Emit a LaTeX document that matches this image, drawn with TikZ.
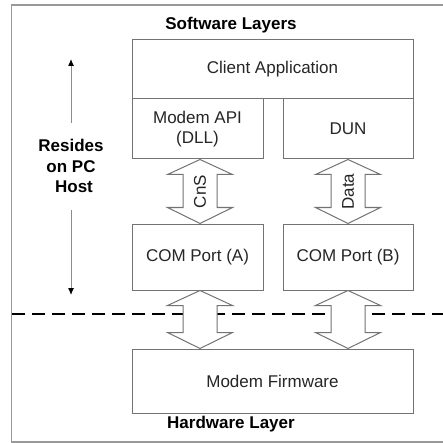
\documentclass[tikz,border=0pt]{standalone}
\usepackage{fontspec}
\setmainfont{Liberation Sans}
\usetikzlibrary{calc,arrows.meta}
\newcommand\fatarrow[3]{%
  \coordinate (fa1) at (#1);
  \coordinate (fa2) at (#2);
  \draw[fatarrowstyle] (fa1) -- ($(fa1)+(32.5,-15)$) -- ($(fa1)+(17,-15)$) -- ($(fa2)+(17,16)$)
    -- ($(fa2)+(32.5,16)$) -- (fa2) -- ($(fa2)+(-32.5,16)$) -- ($(fa2)+(-17,16)$)
    -- ($(fa1)+(-17,-15)$) -- ($(fa1)+(-32.5,-15)$) -- cycle;
  \node[txt, rotate=90] at ($(fa1)!0.5!(fa2)$) {#3};%
}
\begin{document}
\begin{tikzpicture}[x=1pt,y=1pt,
  txt/.style={font=\fontsize{17}{20}\selectfont, text=black!85},
  btxt/.style={font=\fontsize{17}{20.5}\selectfont\bfseries, text=black},
  box/.style={draw=black!55, line width=1pt, fill=white, inner sep=0pt, txt, align=center},
  fatarrowstyle/.style={draw=black!55, line width=1pt, fill=white, line join=miter},
  sidearrow/.style={draw=black!45, line width=1pt, -{Latex[length=7pt,width=6pt,black]}},
  frame/.style={draw=black!40, line width=1.5pt},
  divider/.style={draw=black, line width=2pt, dash pattern=on 13pt off 7pt}
]
\useasboundingbox (0,0) rectangle (443,-443);
\draw[frame] (11.5,-5) rectangle (460,-442);

\node[btxt] (sw) at (231,-25) {Software Layers};
\node[btxt] (hw) at (231,-424) {Hardware Layer};

\node[box, minimum width=281pt, minimum height=59pt] (client) at (272.5,-69.5) {Client Application};
\node[box, minimum width=131pt, minimum height=60pt] (api) at (197.5,-129) {Modem API\\(DLL)};
\node[box, minimum width=130pt, minimum height=60pt] (dun) at (348,-129) {DUN};
\node[box, minimum width=131pt, minimum height=66pt] (coma) at (197.5,-257) {COM Port (A)};
\node[box, minimum width=130pt, minimum height=66pt] (comb) at (348,-257) {COM Port (B)};
\node[box, minimum width=281pt, minimum height=64pt] (fw) at (272.5,-381) {Modem Firmware};

\coordinate (dl) at (12,-314);
\coordinate (dr) at (450,-314);
\draw[divider] (dl) -- (dr);

\fatarrow{$(api.south)+(2.5,0)$}{$(coma.north)+(2.5,0)$}{CnS}
\fatarrow{dun.south}{comb.north}{Data}
\fatarrow{$(coma.south)+(2.5,0)$}{$(coma.south |- fw.north)+(2.5,0)$}{}
\fatarrow{comb.south}{comb.south |- fw.north}{}

\node[btxt, align=center] (res) at (71,-166) {Resides\\on PC\\\hspace*{6pt}Host};
\coordinate (upstart) at (71,-123);
\coordinate (uptip) at (71,-59);
\coordinate (downstart) at (71,-210);
\coordinate (downtip) at (71,-295);
\draw[sidearrow] (upstart) -- (uptip);
\draw[sidearrow] (downstart) -- (downtip);
\end{tikzpicture}
\end{document}
